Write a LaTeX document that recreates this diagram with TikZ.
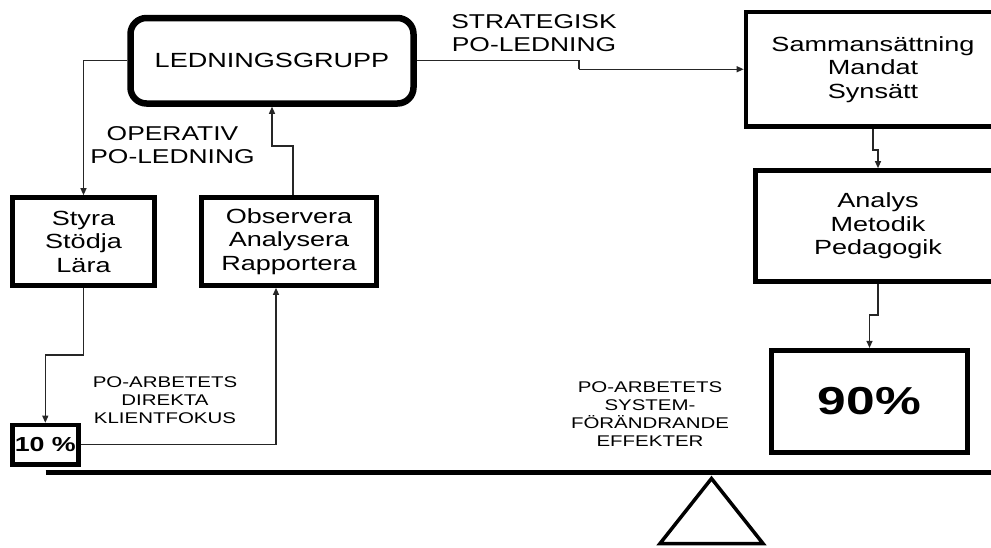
\documentclass[tikz,border=0pt]{standalone}
\usepackage{fontspec}
\setmainfont{Liberation Sans}[FakeStretch=1.32]
\usetikzlibrary{arrows.meta}

\tikzset{
  boxtxt/.style={font=\fontsize{20.5}{23.5}\selectfont, align=center},
  lbl/.style={font=\fontsize{20}{23}\selectfont, align=center, inner sep=0pt},
  smalllbl/.style={font=\fontsize{15.5}{18}\selectfont, align=center, inner sep=0pt},
  sqbox/.style={draw, line width=4.7pt, rectangle, inner sep=0pt},
  conn/.style={draw, line width=1.2pt, black!85, -{Triangle[length=7pt,width=6pt]}},
  plain/.style={draw, line width=1.2pt, black!85},
}

\begin{document}
\begin{tikzpicture}[x=1pt, y=-1pt]
\useasboundingbox (0,0) rectangle (991,547);
\clip (0,0) rectangle (991,547);

% management group
\node[draw, line width=6.5pt, rounded corners=16pt, inner sep=0pt,
      minimum width=283pt, minimum height=85.5pt, boxtxt]
  (ledn) at (272,60.75) {LEDNINGSGRUPP};

% operative boxes
\node[sqbox, minimum width=142pt, minimum height=88pt, boxtxt]
  (styra) at (83.5,241.5) {Styra\\Stödja\\Lära};
\node[sqbox, minimum width=175pt, minimum height=88pt, boxtxt]
  (obs) at (289,241.5) {Observera\\Analysera\\Rapportera};

% strategic boxes (running off the right edge)
\node[sqbox, minimum width=254pt, minimum height=114.5pt, boxtxt]
  (smm) at (873,69.25) {Sammansättning\\Mandat\\Synsätt};
\node[sqbox, minimum width=245pt, minimum height=111pt, boxtxt]
  (ana) at (878,226) {Analys\\Metodik\\Pedagogik};

% percentages
\node[sqbox, minimum width=195.5pt, minimum height=102.5pt,
      font=\fontsize{39}{44}\selectfont\bfseries]
  (p90) at (869.5,401.5) {90\%};
\node[sqbox, minimum width=65.7pt, minimum height=39.5pt,
      font=\fontsize{20.3}{23}\selectfont\bfseries]
  (p10) at (45.3,444.8) {10 \%};

% labels
\node[lbl] (strat) at (534,33.5) {STRATEGISK\\PO-LEDNING};
\node[lbl] (oper) at (172.5,145.5) {OPERATIV\\PO-LEDNING};
\node[smalllbl] (direkt) at (165,400) {PO-ARBETETS\\DIREKTA\\KLIENTFOKUS};
\node[smalllbl] (system) at (650,414.5) {PO-ARBETETS\\SYSTEM-\\FÖRÄNDRANDE\\EFFEKTER};

% bend points of the connectors
\coordinate (j1) at (579,69.25);
\coordinate (j2) at (873,150);
\coordinate (j3) at (878,315);
\coordinate (j4) at (293,146);
\coordinate (j5) at (83.5,355);
\coordinate (j6) at (276,445);

% connectors
\draw[conn] (ledn.west) -| (styra.north);
\draw[plain] (ledn.east) -| (j1);
\draw[conn] (j1) -- (smm.west);
\draw[conn] (smm.south) -- (j2) -| (ana.north);
\draw[conn] (ana.south) -- (j3) -| (p90.north);
\draw[conn] (j4 |- obs.north) -- (j4) -| (ledn.south);
\draw[conn] (styra.south) -- (j5) -| (p10.north);
\draw[conn] (p10.east) -| (j6 |- obs.south);

% balance beam and fulcrum
\coordinate (beamL) at (45.7,472.5);
\coordinate (beamR) at (1000,472.5);
\draw[line width=5pt] (beamL) -- (beamR);
\coordinate (apex) at (711.5,478.5);
\coordinate (baseL) at (660,543.5);
\coordinate (baseR) at (763,543.5);
\draw[line width=3.5pt, line join=miter] (apex) -- (baseR) -- (baseL) -- cycle;
\end{tikzpicture}
\end{document}
